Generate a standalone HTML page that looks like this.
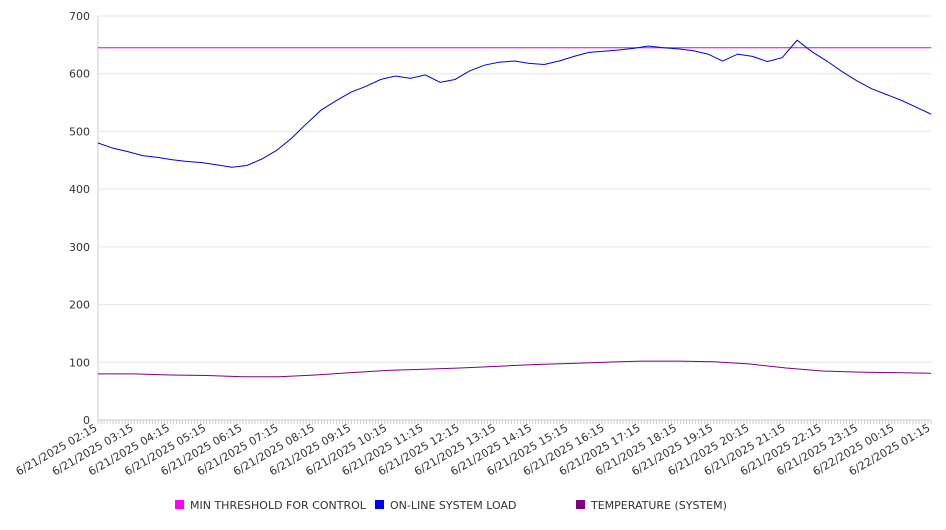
<!DOCTYPE html>
<html><head><meta charset="utf-8"><style>
body{margin:0;background:#fff;font-family:"DejaVu Sans","Liberation Sans",sans-serif}
svg text{font-family:"DejaVu Sans","Liberation Sans",sans-serif;fill:#333}
</style></head><body>
<svg id="c" width="946" height="526"></svg>
<script>
const yTicks=[0,100,200,300,400,500,600,700];
const xLabels=["6/21/2025 02:15","6/21/2025 03:15","6/21/2025 04:15","6/21/2025 05:15","6/21/2025 06:15","6/21/2025 07:15","6/21/2025 08:15","6/21/2025 09:15","6/21/2025 10:15","6/21/2025 11:15","6/21/2025 12:15","6/21/2025 13:15","6/21/2025 14:15","6/21/2025 15:15","6/21/2025 16:15","6/21/2025 17:15","6/21/2025 18:15","6/21/2025 19:15","6/21/2025 20:15","6/21/2025 21:15","6/21/2025 22:15","6/21/2025 23:15","6/22/2025 00:15","6/22/2025 01:15"];
const loadValues=[480,471,465,458,455,451,448,446,442,438,441,452,467,488,513,537,553,568,578,590,596,592,598,585,590,605,615,620,622,618,616,622,630,637,639,641,644,648,645,643,640,634,622,634,630,621,628,658,638,622,604,588,574,564,554,542,530];
const tempValues=[80,80,78,77,75,75,78,82,86,88,90,93,96,98,100,102,102,101,97,90,85,83,82,81];
const threshold=645;
const L=98,R=931,T=16,B=420,YMAX=700;
const ns="http://www.w3.org/2000/svg",svg=document.getElementById('c');
function el(t,a,p){const e=document.createElementNS(ns,t);for(const k in a)e.setAttribute(k,a[k]);(p||svg).appendChild(e);return e;}
const y=v=>B-(v/YMAX)*(B-T);
const xf=(i,n)=>L+i*(R-L)/(n-1);
yTicks.forEach(v=>{
 const g=el('line',{x1:L,x2:R,y1:y(v),y2:y(v),stroke:v?'#e6e6e6':'#ccc'});
 
 
 const t=el('text',{x:90,y:y(v)+4,'text-anchor':'end','font-size':11});t.textContent=v;
 
 
});
el('line',{x1:L,x2:L,y1:T,y2:B,stroke:'#ccc'});
for(let i=0;i<=276;i++){const xx=L+i*(R-L)/276;el('line',{x1:xx,x2:xx,y1:B,y2:B+4,stroke:'#ccc'});}
xLabels.forEach((s,i)=>{
 const xx=xf(i,xLabels.length);
 const t=el('text',{x:xx,y:B+10,'text-anchor':'end','font-size':11,transform:`rotate(-30 ${xx} ${B+10})`});t.textContent=s;
 
 
});
const th=el('line',{x1:L,x2:R,y1:y(threshold),y2:y(threshold),stroke:'#e000e0','stroke-width':1});


function line(vals,color,name){
 const p=el('polyline',{points:vals.map((v,i)=>xf(i,vals.length)+','+y(v)).join(' '),fill:'none',stroke:color,'stroke-width':1});
 
 
}
line(loadValues,'#0000dd','system-load-line');
line(tempValues,'#800080','temperature-line');
const leg=[['MIN THRESHOLD FOR CONTROL','#ff00ff',175],['ON-LINE SYSTEM LOAD','#0000ff',375],['TEMPERATURE (SYSTEM)','#800080',576]];
leg.forEach(([s,c,x])=>{
 const g=el('g',{});
 
 
 el('rect',{x:x,y:500,width:9,height:9,fill:c},g);
 const t=el('text',{x:x+15,y:509,'font-size':11},g);t.textContent=s;
});
</script>
</body></html>
